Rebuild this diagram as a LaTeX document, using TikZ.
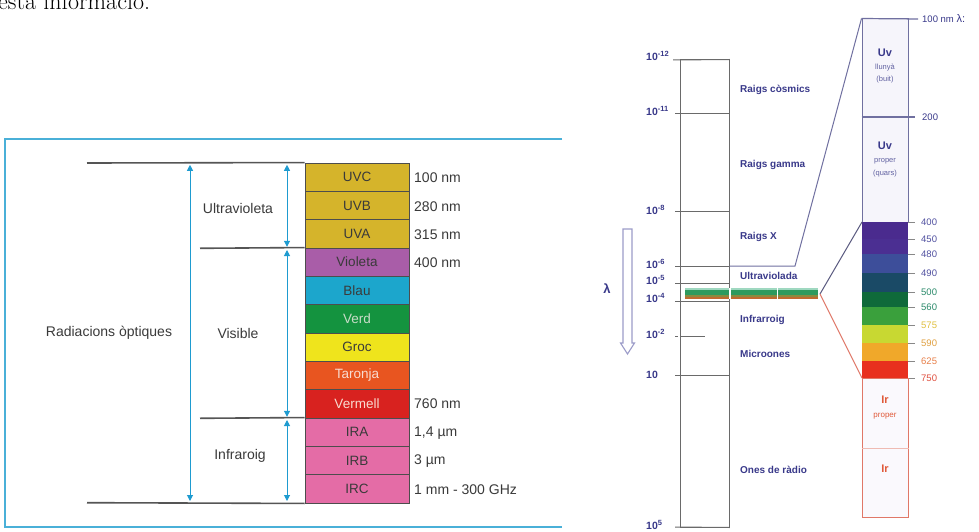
\documentclass[tikz,border=0pt]{standalone}
\usepackage{fontspec}
\newfontfamily\arial{Liberation Sans}
\usetikzlibrary{arrows.meta}
\definecolor{framecol}{HTML}{4AB0D8}
\definecolor{arrcol}{HTML}{1E9BD0}
\definecolor{glin}{HTML}{555555}
\definecolor{rowline}{HTML}{4D4D4D}
\definecolor{txtd}{HTML}{3A3A3A}
\definecolor{uvcol}{HTML}{D5B42B}
\definecolor{viocol}{HTML}{A95DA8}
\definecolor{blaucol}{HTML}{1CA6CC}
\definecolor{verdcol}{HTML}{14933F}
\definecolor{groccol}{HTML}{EFE41C}
\definecolor{tarcol}{HTML}{E85520}
\definecolor{vercol}{HTML}{D8221F}
\definecolor{ircol}{HTML}{E46CA6}
\definecolor{lighttxt}{HTML}{F8DCD0}
\definecolor{verdtxt}{HTML}{C8DCC8}
\definecolor{navy}{HTML}{39398A}
\definecolor{colgray}{HTML}{6A6A6A}
\definecolor{uvline}{HTML}{7070A0}
\definecolor{uvfill}{HTML}{F6F5FB}
\definecolor{irline}{HTML}{E07868}
\definecolor{irtxt}{HTML}{E05A3A}
\definecolor{stA}{HTML}{9FD8C0}
\definecolor{stB}{HTML}{2E9A5E}
\definecolor{stC}{HTML}{8A8A40}
\definecolor{stD}{HTML}{C06A30}
\tikzset{
  frame/.style={draw=framecol, line width=1.5},
  graylin/.style={draw=glin, line width=1.6},
  darr/.style={draw=arrcol, line width=1, {Triangle[width=6,length=6]}-{Triangle[width=6,length=6]}},
  rowbox/.style={draw=rowline, line width=0.9, minimum width=104, minimum height=28.33, inner sep=0, font=\arial\fontsize{13.5}{15}\selectfont},
  llab/.style={text=txtd, font=\arial\fontsize{14}{16}\selectfont, inner sep=0},
  rlab/.style={text=txtd, font=\arial\fontsize{14}{16}\selectfont, inner sep=0, anchor=west},
  axl/.style={text=navy, font=\arial\bfseries\fontsize{10.5}{12}\selectfont, inner sep=0, anchor=base west},
  band/.style={text=navy, font=\arial\bfseries\fontsize{10}{12}\selectfont, inner sep=0, anchor=west},
  tickl/.style={draw=colgray, line width=1},
  spl/.style={font=\arial\fontsize{9.5}{11}\selectfont, inner sep=0, anchor=west},
}
\begin{document}
\begin{tikzpicture}[x=1pt,y=-1pt]
\useasboundingbox (0,0) rectangle (979,532);
\clip (0,0) rectangle (979,532);
\fill[white] (0,0) rectangle (979,532);
% intro text
\node[anchor=base west, font=\fontsize{24}{26}\selectfont, inner sep=0] (intro) at (-2,10) {esta informació.};

% ---------- left diagram ----------
\coordinate (fA) at (562,139);
\coordinate (fB) at (5,139);
\coordinate (fC) at (5,527);
\coordinate (fD) at (562,527);
\draw[frame] (fA) -- (fB) -- (fC) -- (fD);

\foreach \n/\t/\c/\tc [count=\i from 0] in {
  uvc/UVC/uvcol/txtd, uvb/UVB/uvcol/txtd, uva/UVA/uvcol/txtd,
  violeta/Violeta/viocol/txtd, blau/Blau/blaucol/txtd, verd/Verd/verdcol/verdtxt,
  groc/Groc/groccol/txtd, taronja/Taronja/tarcol/lighttxt, vermell/Vermell/vercol/lighttxt,
  ira/IRA/ircol/txtd, irb/IRB/ircol/txtd, irc/IRC/ircol/txtd}
{
  \node[rowbox, fill=\c, text=\tc] (\n) at (357,{163+28.333*\i+14.167}) {\t};
}

\coordinate (g1) at (87,163);
\coordinate (g2) at (200,248.3);
\coordinate (g3) at (200,418.3);
\coordinate (g4) at (87,502.7);
\draw[graylin] (g1) -- (uvc.north west);
\draw[graylin] (g2) -- (violeta.north west);
\draw[graylin] (g3) -- (ira.north west);
\draw[graylin] (g4) -- (irc.south west);

\coordinate (a1t) at (190,164.8);
\coordinate (a1b) at (190,501);
\coordinate (a2t) at (287,164.8);
\coordinate (a2b) at (287,246.8);
\coordinate (a3t) at (287,250);
\coordinate (a3b) at (287,416.8);
\coordinate (a4t) at (287,420);
\coordinate (a4b) at (287,501);
\draw[darr] (a1t) -- (a1b);
\draw[darr] (a2t) -- (a2b);
\draw[darr] (a3t) -- (a3b);
\draw[darr] (a4t) -- (a4b);

\node[llab] (luv) at (238,208) {Ultravioleta};
\node[llab] (lrad) at (109,333) {Radiacions òptiques};
\node[llab] (lvis) at (238,333) {Visible};
\node[llab] (lir) at (240,456) {Infraroig};

\node[rlab] (w1) at (414,178) {100 nm};
\node[rlab] (w2) at (414,206.5) {280 nm};
\node[rlab] (w3) at (414,234.5) {315 nm};
\node[rlab] (w4) at (414,263) {400 nm};
\node[rlab] (w5) at (414,404) {760 nm};
\node[rlab] (w6) at (414,433) {1,4 µm};
\node[rlab] (w7) at (414,461.5) {3 µm};
\node[rlab] (w8) at (414,490) {1 mm - 300 GHz};

% ---------- right diagram ----------
% lambda arrow
\draw[draw=gray!70!blue!60, fill=white, line width=1.1]
  (623,229) -- (632,229) -- (632,343) -- (634.5,343) -- (627.5,354) -- (620.5,343) -- (623,343) -- cycle;
\node[text=navy, font=\arial\bfseries\fontsize{13}{14}\selectfont, inner sep=0] (lam) at (607,289) {λ};

% main column
\node[draw=colgray, line width=1, minimum width=49, minimum height=467, inner sep=0] (mcol) at (704.5,293.5) {};

% ticks
\draw[tickl] (673,60) -- (mcol.north east);
\draw[tickl] (675,114) -- (729,114);
\draw[tickl] (675,211) -- (729,211);
\draw[tickl] (675,266) -- (729,266);
\draw[tickl] (675,283) -- (729,283);
\draw[tickl] (675,301) -- (729,301);
\draw[tickl] (675,336) -- (678,336);
\draw[tickl] (681,336) -- (705,336);
\draw[tickl] (675,375) -- (729,375);
\draw[tickl] (675,527) -- (mcol.south east);

\node[axl] (e12) at (646,61) {10\raisebox{4pt}{\fontsize{7.5}{8}\selectfont -12}};
\node[axl] (e11) at (646,116) {10\raisebox{4pt}{\fontsize{7.5}{8}\selectfont -11}};
\node[axl] (e8) at (646,214) {10\raisebox{4pt}{\fontsize{7.5}{8}\selectfont -8}};
\node[axl] (e6) at (646,268) {10\raisebox{4pt}{\fontsize{7.5}{8}\selectfont -6}};
\node[axl] (e5) at (646,284) {10\raisebox{4pt}{\fontsize{7.5}{8}\selectfont -5}};
\node[axl] (e4) at (646,302) {10\raisebox{4pt}{\fontsize{7.5}{8}\selectfont -4}};
\node[axl] (e2) at (646,338) {10\raisebox{4pt}{\fontsize{7.5}{8}\selectfont -2}};
\node[axl] (e1) at (646,378) {10};
\node[axl] (e0) at (646,529) {10\raisebox{4pt}{\fontsize{7.5}{8}\selectfont 5}};

% band labels
\node[band] (b1) at (740,90) {Raigs còsmics};
\node[band] (b2) at (740,165) {Raigs gamma};
\node[band] (b3) at (740,237) {Raigs X};
\node[band] (b4) at (740,276) {Ultraviolada};
\node[band] (b5) at (740,320) {Infrarroig};
\node[band] (b6) at (740,354) {Microones};
\node[band] (b7) at (740,470) {Ones de ràdio};

% visible band strip
\fill[stA] (685,288) rectangle (818,289.6);
\fill[stB] (685,289.6) rectangle (818,295);
\fill[stC] (685,295) rectangle (818,296.5);
\fill[stD] (685,296.5) rectangle (818,298.5);
\fill[white] (729.3,287.5) rectangle (731.2,299);
\fill[white] (776.5,287.5) rectangle (778.3,299);
\coordinate (apex) at (820,294);

% zoomed column: UV part
\node[draw=uvline, fill=uvfill, line width=1, minimum width=46, minimum height=203, inner sep=0] (uvz) at (885,120.5) {};
\coordinate (uvk) at (795,266);
\draw[draw=uvline, line width=1] (mcol.east |- uvk) -- (uvk) -- (uvz.north west);
\coordinate (t100) at (918,19);
\coordinate (t200) at (915,117);
\draw[draw=uvline, line width=1.2] (uvz.north west) -- (t100);
\draw[draw=uvline, line width=1.2] (uvz.west |- t200) -- (t200);
\node[spl, text=navy] (l100) at (922,19) {100 nm \fontsize{11}{12}\selectfont λ:};
\node[spl, text=navy] (l200) at (922,117) {200};
\node[text=navy, font=\arial\bfseries\fontsize{11}{12}\selectfont, inner sep=0] (uv1) at (885,53) {Uv};
\node[text=navy!80, font=\arial\fontsize{7.5}{9}\selectfont, inner sep=0] (uv1a) at (885,67.5) {llunyà};
\node[text=navy!80, font=\arial\fontsize{7.5}{9}\selectfont, inner sep=0] (uv1b) at (885,80) {(buit)};
\node[text=navy, font=\arial\bfseries\fontsize{11}{12}\selectfont, inner sep=0] (uv2) at (885,146) {Uv};
\node[text=navy!80, font=\arial\fontsize{7.5}{9}\selectfont, inner sep=0] (uv2a) at (885,161) {proper};
\node[text=navy!80, font=\arial\fontsize{7.5}{9}\selectfont, inner sep=0] (uv2b) at (885,174) {(quars)};

% spectrum blocks
\foreach \top/\bot/\c in {
  222/239/4A2B8E, 239/254/4B2F92, 254/273/3D4E9A, 273/292/1A4A66,
  292/307/0F6A3A, 307/325/3AA03C, 325/343/C8D832, 343/361/F0A82A, 361/378/E8301E}
{
  \definecolor{tmpc}{HTML}{\c}
  \fill[tmpc] (862,\top) rectangle (908,\bot);
}
\coordinate (s400) at (862,222);
\coordinate (s750) at (862,378);
\draw[draw=uvline!80!black, line width=1] (apex) -- (s400);
\draw[draw=irline, line width=1] (apex) -- (s750);

\foreach \y/\lab/\c in {222/400/5050A0, 239/450/5050A0, 254/480/5050A0, 273/490/5050A0,
  292/500/2A8A6A, 307/560/2A8A6A, 325/575/E0C040, 343/590/E0A040, 361/625/E8804A, 378/750/E05040}
{
  \definecolor{tmpt}{HTML}{\c}
  \draw[draw=colgray!80, line width=1] (908,\y) -- (915,\y);
  \node[spl, text=tmpt] at (921,\y) {\lab};
}

% IR part
\node[draw=irline, fill=uvfill!60, line width=1, minimum width=46, minimum height=139, inner sep=0] (irz) at (885,447.5) {};
\coordinate (d448) at (862,448);
\draw[draw=irline!50, line width=0.8] (d448) -- (irz.east |- d448);
\node[text=irtxt, font=\arial\bfseries\fontsize{11}{12}\selectfont, inner sep=0] (ir1) at (885,400) {Ir};
\node[text=irtxt, font=\arial\fontsize{8}{9}\selectfont, inner sep=0] (ir1a) at (885,416) {proper};
\node[text=irtxt, font=\arial\bfseries\fontsize{11}{12}\selectfont, inner sep=0] (ir2) at (885,469) {Ir};
\end{tikzpicture}
\end{document}
